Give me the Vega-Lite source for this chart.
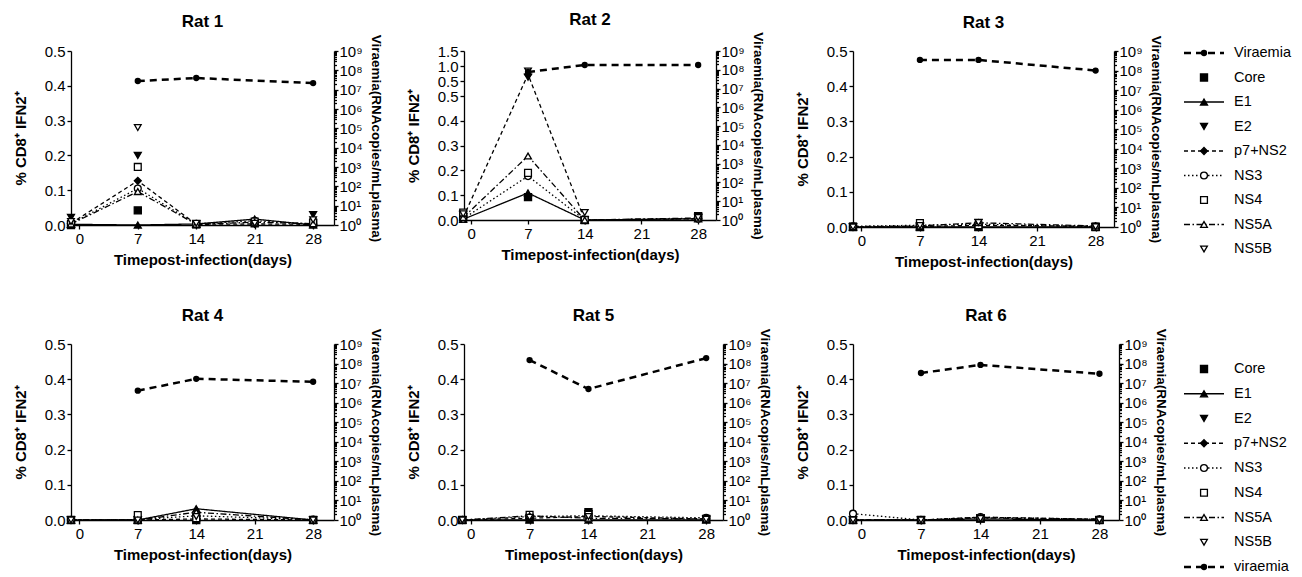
{
  "$schema": "https://vega.github.io/schema/vega-lite/v6.json",
  "padding": {"left": 13, "top": 10, "right": 5, "bottom": 5},
  "background": "white",
  "data": {"values": [
    {"rat":1,"day":-1,"series":"Core","pct":0},{"rat":1,"day":7,"series":"Core","pct":0.042},{"rat":1,"day":14,"series":"Core","pct":0.002},{"rat":1,"day":21,"series":"Core","pct":0.005},{"rat":1,"day":28,"series":"Core","pct":0.005},
    {"rat":1,"day":-1,"series":"E1","pct":0.002},{"rat":1,"day":7,"series":"E1","pct":0},{"rat":1,"day":14,"series":"E1","pct":0.003},{"rat":1,"day":21,"series":"E1","pct":0.017},{"rat":1,"day":28,"series":"E1","pct":0},
    {"rat":1,"day":-1,"series":"E2","pct":0.022},{"rat":1,"day":7,"series":"E2","pct":0.2},{"rat":1,"day":14,"series":"E2","pct":0.004},{"rat":1,"day":21,"series":"E2","pct":0.005},{"rat":1,"day":28,"series":"E2","pct":0.03},
    {"rat":1,"day":-1,"series":"p7+NS2","pct":0.005},{"rat":1,"day":7,"series":"p7+NS2","pct":0.127},{"rat":1,"day":14,"series":"p7+NS2","pct":0.002},{"rat":1,"day":21,"series":"p7+NS2","pct":0.003},{"rat":1,"day":28,"series":"p7+NS2","pct":0.002},
    {"rat":1,"day":-1,"series":"NS3","pct":0.004},{"rat":1,"day":7,"series":"NS3","pct":0.105},{"rat":1,"day":14,"series":"NS3","pct":0.003},{"rat":1,"day":21,"series":"NS3","pct":0.012},{"rat":1,"day":28,"series":"NS3","pct":0.003},
    {"rat":1,"day":-1,"series":"NS4","pct":0.003},{"rat":1,"day":7,"series":"NS4","pct":0.167},{"rat":1,"day":14,"series":"NS4","pct":0.002},{"rat":1,"day":21,"series":"NS4","pct":0.01},{"rat":1,"day":28,"series":"NS4","pct":0.008},
    {"rat":1,"day":-1,"series":"NS5A","pct":0.003},{"rat":1,"day":7,"series":"NS5A","pct":0.096},{"rat":1,"day":14,"series":"NS5A","pct":0.002},{"rat":1,"day":21,"series":"NS5A","pct":0.008},{"rat":1,"day":28,"series":"NS5A","pct":0.004},
    {"rat":1,"day":-1,"series":"NS5B","pct":0.01},{"rat":1,"day":7,"series":"NS5B","pct":0.28},{"rat":1,"day":14,"series":"NS5B","pct":0.005},{"rat":1,"day":21,"series":"NS5B","pct":0.005},{"rat":1,"day":28,"series":"NS5B","pct":0.015},
    {"rat":2,"day":-1,"series":"Core","pct":0.01},{"rat":2,"day":7,"series":"Core","pct":0.092},{"rat":2,"day":14,"series":"Core","pct":0},{"rat":2,"day":28,"series":"Core","pct":0.015},
    {"rat":2,"day":-1,"series":"E1","pct":0.003},{"rat":2,"day":7,"series":"E1","pct":0.109},{"rat":2,"day":14,"series":"E1","pct":0},{"rat":2,"day":28,"series":"E1","pct":0.005},
    {"rat":2,"day":-1,"series":"E2","pct":0.02},{"rat":2,"day":7,"series":"E2","pct":0.63},{"rat":2,"day":14,"series":"E2","pct":0},{"rat":2,"day":28,"series":"E2","pct":0.01},
    {"rat":2,"day":-1,"series":"p7+NS2","pct":0.01},{"rat":2,"day":7,"series":"p7+NS2","pct":0.72},{"rat":2,"day":14,"series":"p7+NS2","pct":0},{"rat":2,"day":28,"series":"p7+NS2","pct":0.005},
    {"rat":2,"day":-1,"series":"NS3","pct":0.005},{"rat":2,"day":7,"series":"NS3","pct":0.177},{"rat":2,"day":14,"series":"NS3","pct":0},{"rat":2,"day":28,"series":"NS3","pct":0.005},
    {"rat":2,"day":-1,"series":"NS4","pct":0.03},{"rat":2,"day":7,"series":"NS4","pct":0.19},{"rat":2,"day":14,"series":"NS4","pct":0},{"rat":2,"day":28,"series":"NS4","pct":0.012},
    {"rat":2,"day":-1,"series":"NS5A","pct":0.01},{"rat":2,"day":7,"series":"NS5A","pct":0.258},{"rat":2,"day":14,"series":"NS5A","pct":0},{"rat":2,"day":28,"series":"NS5A","pct":0.008},
    {"rat":2,"day":-1,"series":"NS5B","pct":0.025},{"rat":2,"day":7,"series":"NS5B","pct":0.83},{"rat":2,"day":14,"series":"NS5B","pct":0.03},{"rat":2,"day":28,"series":"NS5B","pct":0.01},
    {"rat":3,"day":-1,"series":"Core","pct":0},{"rat":3,"day":7,"series":"Core","pct":0},{"rat":3,"day":14,"series":"Core","pct":0},{"rat":3,"day":28,"series":"Core","pct":0},
    {"rat":3,"day":-1,"series":"E1","pct":0},{"rat":3,"day":7,"series":"E1","pct":0},{"rat":3,"day":14,"series":"E1","pct":0},{"rat":3,"day":28,"series":"E1","pct":0},
    {"rat":3,"day":-1,"series":"E2","pct":0},{"rat":3,"day":7,"series":"E2","pct":0.002},{"rat":3,"day":14,"series":"E2","pct":0.012},{"rat":3,"day":28,"series":"E2","pct":0},
    {"rat":3,"day":-1,"series":"p7+NS2","pct":0},{"rat":3,"day":7,"series":"p7+NS2","pct":0.001},{"rat":3,"day":14,"series":"p7+NS2","pct":0.005},{"rat":3,"day":28,"series":"p7+NS2","pct":0.002},
    {"rat":3,"day":-1,"series":"NS3","pct":0.002},{"rat":3,"day":7,"series":"NS3","pct":0.005},{"rat":3,"day":14,"series":"NS3","pct":0.008},{"rat":3,"day":28,"series":"NS3","pct":0.001},
    {"rat":3,"day":-1,"series":"NS4","pct":0.001},{"rat":3,"day":7,"series":"NS4","pct":0.011},{"rat":3,"day":14,"series":"NS4","pct":0.005},{"rat":3,"day":28,"series":"NS4","pct":0.001},
    {"rat":3,"day":-1,"series":"NS5A","pct":0.001},{"rat":3,"day":7,"series":"NS5A","pct":0.003},{"rat":3,"day":14,"series":"NS5A","pct":0.012},{"rat":3,"day":28,"series":"NS5A","pct":0.003},
    {"rat":3,"day":-1,"series":"NS5B","pct":0},{"rat":3,"day":7,"series":"NS5B","pct":0.004},{"rat":3,"day":14,"series":"NS5B","pct":0.013},{"rat":3,"day":28,"series":"NS5B","pct":0.001},
    {"rat":4,"day":-1,"series":"Core","pct":0},{"rat":4,"day":7,"series":"Core","pct":0},{"rat":4,"day":14,"series":"Core","pct":0},{"rat":4,"day":28,"series":"Core","pct":0},
    {"rat":4,"day":-1,"series":"E1","pct":0},{"rat":4,"day":7,"series":"E1","pct":0},{"rat":4,"day":14,"series":"E1","pct":0.032},{"rat":4,"day":28,"series":"E1","pct":0},
    {"rat":4,"day":-1,"series":"E2","pct":0},{"rat":4,"day":7,"series":"E2","pct":0},{"rat":4,"day":14,"series":"E2","pct":0.002},{"rat":4,"day":28,"series":"E2","pct":0},
    {"rat":4,"day":-1,"series":"p7+NS2","pct":0},{"rat":4,"day":7,"series":"p7+NS2","pct":0},{"rat":4,"day":14,"series":"p7+NS2","pct":0.003},{"rat":4,"day":28,"series":"p7+NS2","pct":0},
    {"rat":4,"day":-1,"series":"NS3","pct":0},{"rat":4,"day":7,"series":"NS3","pct":0.001},{"rat":4,"day":14,"series":"NS3","pct":0.012},{"rat":4,"day":28,"series":"NS3","pct":0.001},
    {"rat":4,"day":-1,"series":"NS4","pct":0},{"rat":4,"day":7,"series":"NS4","pct":0.014},{"rat":4,"day":14,"series":"NS4","pct":0.005},{"rat":4,"day":28,"series":"NS4","pct":0},
    {"rat":4,"day":-1,"series":"NS5A","pct":0},{"rat":4,"day":7,"series":"NS5A","pct":0},{"rat":4,"day":14,"series":"NS5A","pct":0.022},{"rat":4,"day":28,"series":"NS5A","pct":0},
    {"rat":4,"day":-1,"series":"NS5B","pct":0},{"rat":4,"day":7,"series":"NS5B","pct":0},{"rat":4,"day":14,"series":"NS5B","pct":0.01},{"rat":4,"day":28,"series":"NS5B","pct":0},
    {"rat":5,"day":-1,"series":"Core","pct":0},{"rat":5,"day":7,"series":"Core","pct":0.003},{"rat":5,"day":14,"series":"Core","pct":0.022},{"rat":5,"day":28,"series":"Core","pct":0.003},
    {"rat":5,"day":-1,"series":"E1","pct":0},{"rat":5,"day":7,"series":"E1","pct":0},{"rat":5,"day":14,"series":"E1","pct":0},{"rat":5,"day":28,"series":"E1","pct":0},
    {"rat":5,"day":-1,"series":"E2","pct":0},{"rat":5,"day":7,"series":"E2","pct":0.005},{"rat":5,"day":14,"series":"E2","pct":0.018},{"rat":5,"day":28,"series":"E2","pct":0.002},
    {"rat":5,"day":-1,"series":"p7+NS2","pct":0},{"rat":5,"day":7,"series":"p7+NS2","pct":0.005},{"rat":5,"day":14,"series":"p7+NS2","pct":0.01},{"rat":5,"day":28,"series":"p7+NS2","pct":0.003},
    {"rat":5,"day":-1,"series":"NS3","pct":0},{"rat":5,"day":7,"series":"NS3","pct":0.01},{"rat":5,"day":14,"series":"NS3","pct":0.012},{"rat":5,"day":28,"series":"NS3","pct":0.006},
    {"rat":5,"day":-1,"series":"NS4","pct":0},{"rat":5,"day":7,"series":"NS4","pct":0.015},{"rat":5,"day":14,"series":"NS4","pct":0.015},{"rat":5,"day":28,"series":"NS4","pct":0.003},
    {"rat":5,"day":-1,"series":"NS5A","pct":0},{"rat":5,"day":7,"series":"NS5A","pct":0.012},{"rat":5,"day":14,"series":"NS5A","pct":0.005},{"rat":5,"day":28,"series":"NS5A","pct":0.003},
    {"rat":5,"day":-1,"series":"NS5B","pct":0},{"rat":5,"day":7,"series":"NS5B","pct":0.008},{"rat":5,"day":14,"series":"NS5B","pct":0.01},{"rat":5,"day":28,"series":"NS5B","pct":0.002},
    {"rat":6,"day":-1,"series":"Core","pct":0},{"rat":6,"day":7,"series":"Core","pct":0},{"rat":6,"day":14,"series":"Core","pct":0.005},{"rat":6,"day":28,"series":"Core","pct":0},
    {"rat":6,"day":-1,"series":"E1","pct":0},{"rat":6,"day":7,"series":"E1","pct":0},{"rat":6,"day":14,"series":"E1","pct":0.003},{"rat":6,"day":28,"series":"E1","pct":0},
    {"rat":6,"day":-1,"series":"E2","pct":0},{"rat":6,"day":7,"series":"E2","pct":0},{"rat":6,"day":14,"series":"E2","pct":0.006},{"rat":6,"day":28,"series":"E2","pct":0},
    {"rat":6,"day":-1,"series":"p7+NS2","pct":0},{"rat":6,"day":7,"series":"p7+NS2","pct":0},{"rat":6,"day":14,"series":"p7+NS2","pct":0.008},{"rat":6,"day":28,"series":"p7+NS2","pct":0.002},
    {"rat":6,"day":-1,"series":"NS3","pct":0.018},{"rat":6,"day":7,"series":"NS3","pct":0},{"rat":6,"day":14,"series":"NS3","pct":0.008},{"rat":6,"day":28,"series":"NS3","pct":0.002},
    {"rat":6,"day":-1,"series":"NS4","pct":0},{"rat":6,"day":7,"series":"NS4","pct":0},{"rat":6,"day":14,"series":"NS4","pct":0.005},{"rat":6,"day":28,"series":"NS4","pct":0},
    {"rat":6,"day":-1,"series":"NS5A","pct":0},{"rat":6,"day":7,"series":"NS5A","pct":0},{"rat":6,"day":14,"series":"NS5A","pct":0.006},{"rat":6,"day":28,"series":"NS5A","pct":0.002},
    {"rat":6,"day":-1,"series":"NS5B","pct":0},{"rat":6,"day":7,"series":"NS5B","pct":0},{"rat":6,"day":14,"series":"NS5B","pct":0.004},{"rat":6,"day":28,"series":"NS5B","pct":0},
    {"rat":1,"day":7,"series":"Viraemia","vir":28000000},{"rat":1,"day":14,"series":"Viraemia","vir":40000000},{"rat":1,"day":28,"series":"Viraemia","vir":22000000},
    {"rat":2,"day":7,"series":"Viraemia","vir":76000000},{"rat":2,"day":14,"series":"Viraemia","vir":180000000},{"rat":2,"day":28,"series":"Viraemia","vir":180000000},
    {"rat":3,"day":7,"series":"Viraemia","vir":350000000},{"rat":3,"day":14,"series":"Viraemia","vir":350000000},{"rat":3,"day":28,"series":"Viraemia","vir":100000000},
    {"rat":4,"day":7,"series":"Viraemia","vir":4100000},{"rat":4,"day":14,"series":"Viraemia","vir":16600000},{"rat":4,"day":28,"series":"Viraemia","vir":11700000},
    {"rat":5,"day":7,"series":"Viraemia","vir":150000000},{"rat":5,"day":14,"series":"Viraemia","vir":5000000},{"rat":5,"day":28,"series":"Viraemia","vir":190000000},
    {"rat":6,"day":7,"series":"Viraemia","vir":33000000},{"rat":6,"day":14,"series":"Viraemia","vir":85000000},{"rat":6,"day":28,"series":"Viraemia","vir":30000000}
  ]},
  "columns": 4,
  "bounds": "flush",
  "align": "each",
  "spacing": {"row": 117, "column": 130},
  "concat": [
    {"width": 263, "height": 174, "title": "Rat 1",
     "transform": [{"filter": "datum.rat == 1"}],
     "layer": [
       {"transform": [{"filter": "datum.pct != null"}],
        "encoding": {
          "x": {"field": "day", "type": "quantitative", "scale": {"domain": [-1, 30.5], "nice": false, "zero": false}, "axis": {"values": [0, 7, 14, 21, 28], "title": "Timepost-infection(days)", "labelFlush": false}},
          "y": {"field": "pct", "type": "quantitative", "scale": {"domain": [0, 0.5], "nice": false, "zero": false}, "axis": {"values": [0, 0.1, 0.2, 0.3, 0.4, 0.5], "format": ".1f", "title": "% CD8⁺ IFN2⁺"}}},
        "layer": [
          {"transform": [{"filter": {"field": "series", "oneOf": ["E1", "p7+NS2", "NS3", "NS5A"]}}],
           "mark": {"type": "line", "color": "black", "strokeWidth": 1.3},
           "encoding": {"strokeDash": {"field": "series", "type": "nominal", "scale": {"domain": ["E1", "p7+NS2", "NS3", "NS5A"], "range": [[1, 0], [4, 3], [1.5, 2.5], [6, 2.5, 1.5, 2.5]]}, "legend": null}}},
          {"mark": {"type": "point", "filled": true, "stroke": "black", "strokeWidth": 1.3, "opacity": 1},
           "encoding": {
             "shape": {"field": "series", "type": "nominal", "scale": {"domain": ["Core", "E1", "E2", "p7+NS2", "NS3", "NS4", "NS5A", "NS5B"], "range": ["square", "triangle-up", "triangle-down", "diamond", "circle", "square", "triangle-up", "triangle-down"]}, "legend": null},
             "fill": {"field": "series", "type": "nominal", "scale": {"domain": ["Core", "E1", "E2", "p7+NS2", "NS3", "NS4", "NS5A", "NS5B"], "range": ["black", "black", "black", "black", "white", "white", "white", "white"]}, "legend": null},
             "size": {"field": "series", "type": "ordinal", "scale": {"domain": ["Core", "E1", "E2", "p7+NS2", "NS3", "NS4", "NS5A", "NS5B"], "range": [50, 45, 45, 30, 45, 55, 55, 55]}, "legend": null}}}
        ]},
       {"transform": [{"filter": "datum.vir != null"}],
        "encoding": {
          "x": {"field": "day", "type": "quantitative"},
          "y": {"field": "vir", "type": "quantitative", "scale": {"type": "log", "domain": [1, 1000000000], "nice": false},
                "axis": {"orient": "right", "title": "Viraemia(RNAcopies/mLplasma)", "titleFontSize": 13.5, "tickCount": 50, "labelOverlap": false, "labelFlush": false, "labelBound": false, "titlePadding": 6, "labelPadding": 1,
                         "labelExpr": "abs(log(datum.value)/LN10 - round(log(datum.value)/LN10)) < 0.001 ? '10' + ['⁰','¹','²','³','⁴','⁵','⁶','⁷','⁸','⁹'][round(log(datum.value)/LN10)] : ''",
                         "tickSize": {"condition": {"test": "abs(log(datum.value)/LN10 - round(log(datum.value)/LN10)) < 0.001", "value": 4}, "value": 2.5}}}},
        "layer": [
          {"mark": {"type": "line", "color": "black", "strokeWidth": 2.5, "strokeDash": [7, 5]}, "encoding": {}},
          {"mark": {"type": "point", "filled": true, "color": "black", "size": 40, "opacity": 1}, "encoding": {}}
        ]}
     ],
     "resolve": {"scale": {"y": "independent"}}},
    {"width": 252, "height": 169, "title": "Rat 2",
     "transform": [{"filter": "datum.rat == 2"}],
     "layer": [
       {"transform": [{"filter": "datum.pct != null"}],
        "encoding": {
          "x": {"field": "day", "type": "quantitative", "scale": {"domain": [-0.9, 30.2], "nice": false, "zero": false}, "axis": {"values": [0, 7, 14, 21, 28], "title": "Timepost-infection(days)", "labelFlush": false}},
          "y": {"field": "pct", "type": "quantitative", "scale": {"domain": [0, 0.5, 0.50001, 1.5], "range": [169, 45, 30, 0], "nice": false, "zero": false}, "axis": {"values": [0, 0.1, 0.2, 0.3, 0.4, 0.5, 0.50001, 1.0, 1.5], "format": ".1f", "labelOverlap": false, "title": "% CD8⁺ IFN2⁺"}}},
        "layer": [
          {"transform": [{"filter": {"field": "series", "oneOf": ["E1", "p7+NS2", "NS3", "NS5A"]}}],
           "mark": {"type": "line", "color": "black", "strokeWidth": 1.3},
           "encoding": {"strokeDash": {"field": "series", "type": "nominal", "scale": {"domain": ["E1", "p7+NS2", "NS3", "NS5A"], "range": [[1, 0], [4, 3], [1.5, 2.5], [6, 2.5, 1.5, 2.5]]}, "legend": null}}},
          {"mark": {"type": "point", "filled": true, "stroke": "black", "strokeWidth": 1.3, "opacity": 1},
           "encoding": {
             "shape": {"field": "series", "type": "nominal", "scale": {"domain": ["Core", "E1", "E2", "p7+NS2", "NS3", "NS4", "NS5A", "NS5B"], "range": ["square", "triangle-up", "triangle-down", "diamond", "circle", "square", "triangle-up", "triangle-down"]}, "legend": null},
             "fill": {"field": "series", "type": "nominal", "scale": {"domain": ["Core", "E1", "E2", "p7+NS2", "NS3", "NS4", "NS5A", "NS5B"], "range": ["black", "black", "black", "black", "white", "white", "white", "white"]}, "legend": null},
             "size": {"field": "series", "type": "ordinal", "scale": {"domain": ["Core", "E1", "E2", "p7+NS2", "NS3", "NS4", "NS5A", "NS5B"], "range": [50, 45, 45, 30, 45, 55, 55, 55]}, "legend": null}}}
        ]},
       {"transform": [{"filter": "datum.vir != null"}],
        "encoding": {
          "x": {"field": "day", "type": "quantitative"},
          "y": {"field": "vir", "type": "quantitative", "scale": {"type": "log", "domain": [1, 1000000000], "nice": false},
                "axis": {"orient": "right", "title": "Viraemia(RNAcopies/mLplasma)", "titleFontSize": 13.5, "tickCount": 50, "labelOverlap": false, "labelFlush": false, "labelBound": false, "titlePadding": 6, "labelPadding": 1,
                         "labelExpr": "abs(log(datum.value)/LN10 - round(log(datum.value)/LN10)) < 0.001 ? '10' + ['⁰','¹','²','³','⁴','⁵','⁶','⁷','⁸','⁹'][round(log(datum.value)/LN10)] : ''",
                         "tickSize": {"condition": {"test": "abs(log(datum.value)/LN10 - round(log(datum.value)/LN10)) < 0.001", "value": 4}, "value": 2.5}}}},
        "layer": [
          {"mark": {"type": "line", "color": "black", "strokeWidth": 2.5, "strokeDash": [7, 5]}, "encoding": {}},
          {"mark": {"type": "point", "filled": true, "color": "black", "size": 40, "opacity": 1}, "encoding": {}}
        ]}
     ],
     "resolve": {"scale": {"y": "independent"}}},
    {"width": 261, "height": 176, "title": "Rat 3",
     "transform": [{"filter": "datum.rat == 3"}],
     "layer": [
       {"transform": [{"filter": "datum.pct != null"}],
        "encoding": {
          "x": {"field": "day", "type": "quantitative", "scale": {"domain": [-1, 30.2], "nice": false, "zero": false}, "axis": {"values": [0, 7, 14, 21, 28], "title": "Timepost-infection(days)", "labelFlush": false}},
          "y": {"field": "pct", "type": "quantitative", "scale": {"domain": [0, 0.5], "nice": false, "zero": false}, "axis": {"values": [0, 0.1, 0.2, 0.3, 0.4, 0.5], "format": ".1f", "title": "% CD8⁺ IFN2⁺"}}},
        "layer": [
          {"transform": [{"filter": {"field": "series", "oneOf": ["E1", "p7+NS2", "NS3", "NS5A"]}}],
           "mark": {"type": "line", "color": "black", "strokeWidth": 1.3},
           "encoding": {"strokeDash": {"field": "series", "type": "nominal", "scale": {"domain": ["E1", "p7+NS2", "NS3", "NS5A"], "range": [[1, 0], [4, 3], [1.5, 2.5], [6, 2.5, 1.5, 2.5]]}, "legend": null}}},
          {"mark": {"type": "point", "filled": true, "stroke": "black", "strokeWidth": 1.3, "opacity": 1},
           "encoding": {
             "shape": {"field": "series", "type": "nominal", "scale": {"domain": ["Core", "E1", "E2", "p7+NS2", "NS3", "NS4", "NS5A", "NS5B"], "range": ["square", "triangle-up", "triangle-down", "diamond", "circle", "square", "triangle-up", "triangle-down"]}, "legend": null},
             "fill": {"field": "series", "type": "nominal", "scale": {"domain": ["Core", "E1", "E2", "p7+NS2", "NS3", "NS4", "NS5A", "NS5B"], "range": ["black", "black", "black", "black", "white", "white", "white", "white"]}, "legend": null},
             "size": {"field": "series", "type": "ordinal", "scale": {"domain": ["Core", "E1", "E2", "p7+NS2", "NS3", "NS4", "NS5A", "NS5B"], "range": [50, 45, 45, 30, 45, 55, 55, 55]}, "legend": null}}}
        ]},
       {"transform": [{"filter": "datum.vir != null"}],
        "encoding": {
          "x": {"field": "day", "type": "quantitative"},
          "y": {"field": "vir", "type": "quantitative", "scale": {"type": "log", "domain": [1, 1000000000], "nice": false},
                "axis": {"orient": "right", "title": "Viraemia(RNAcopies/mLplasma)", "titleFontSize": 13.5, "tickCount": 50, "labelOverlap": false, "labelFlush": false, "labelBound": false, "titlePadding": 6, "labelPadding": 1,
                         "labelExpr": "abs(log(datum.value)/LN10 - round(log(datum.value)/LN10)) < 0.001 ? '10' + ['⁰','¹','²','³','⁴','⁵','⁶','⁷','⁸','⁹'][round(log(datum.value)/LN10)] : ''",
                         "tickSize": {"condition": {"test": "abs(log(datum.value)/LN10 - round(log(datum.value)/LN10)) < 0.001", "value": 4}, "value": 2.5}}}},
        "layer": [
          {"mark": {"type": "line", "color": "black", "strokeWidth": 2.5, "strokeDash": [7, 5]}, "encoding": {}},
          {"mark": {"type": "point", "filled": true, "color": "black", "size": 40, "opacity": 1}, "encoding": {}}
        ]}
     ],
     "resolve": {"scale": {"y": "independent"}}},
    {"width": 100, "height": 174,
     "data": {"values": [
       {"label": "Viraemia", "series": "Viraemia", "order": 0},
       {"label": "Core", "series": "Core", "order": 1},
       {"label": "E1", "series": "E1", "order": 2},
       {"label": "E2", "series": "E2", "order": 3},
       {"label": "p7+NS2", "series": "p7+NS2", "order": 4},
       {"label": "NS3", "series": "NS3", "order": 5},
       {"label": "NS4", "series": "NS4", "order": 6},
       {"label": "NS5A", "series": "NS5A", "order": 7},
       {"label": "NS5B", "series": "NS5B", "order": 8}
     ]},
     "encoding": {"y": {"field": "order", "type": "quantitative", "scale": {"domain": [0, 8], "range": [2, 198]}, "axis": null}},
     "layer": [
       {"transform": [{"filter": {"field": "series", "oneOf": ["E1", "p7+NS2", "NS3", "NS5A"]}}],
        "mark": {"type": "rule", "color": "black", "strokeWidth": 1.3},
        "encoding": {"x": {"datum": 0, "type": "quantitative", "scale": {"domain": [65, 165], "nice": false, "zero": false}, "axis": null}, "x2": {"datum": 40},
                     "strokeDash": {"field": "series", "type": "nominal", "scale": {"domain": ["E1", "p7+NS2", "NS3", "NS5A"], "range": [[1, 0], [4, 3], [1.5, 2.5], [6, 2.5, 1.5, 2.5]]}, "legend": null}}},
       {"transform": [{"filter": "datum.series == 'Viraemia'"}],
        "mark": {"type": "rule", "color": "black", "strokeWidth": 2.5, "strokeDash": [7, 5]},
        "encoding": {"x": {"datum": 0}, "x2": {"datum": 40}}},
       {"transform": [{"filter": "datum.series != 'Viraemia'"}],
        "mark": {"type": "point", "filled": true, "stroke": "black", "strokeWidth": 1.3, "opacity": 1},
        "encoding": {"x": {"datum": 20},
          "shape": {"field": "series", "type": "nominal", "scale": {"domain": ["Core", "E1", "E2", "p7+NS2", "NS3", "NS4", "NS5A", "NS5B"], "range": ["square", "triangle-up", "triangle-down", "diamond", "circle", "square", "triangle-up", "triangle-down"]}, "legend": null},
          "fill": {"field": "series", "type": "nominal", "scale": {"domain": ["Core", "E1", "E2", "p7+NS2", "NS3", "NS4", "NS5A", "NS5B"], "range": ["black", "black", "black", "black", "white", "white", "white", "white"]}, "legend": null},
          "size": {"field": "series", "type": "ordinal", "scale": {"domain": ["Core", "E1", "E2", "p7+NS2", "NS3", "NS4", "NS5A", "NS5B"], "range": [50, 45, 45, 30, 45, 55, 55, 55]}, "legend": null}}},
       {"transform": [{"filter": "datum.series == 'Viraemia'"}],
        "mark": {"type": "point", "filled": true, "color": "black", "size": 40, "opacity": 1},
        "encoding": {"x": {"datum": 20}}},
       {"mark": {"type": "text", "align": "left", "baseline": "middle", "fontSize": 14.5, "color": "black"},
        "encoding": {"x": {"datum": 50}, "text": {"field": "label"}}}
     ]},
    {"width": 263, "height": 176, "title": "Rat 4",
     "transform": [{"filter": "datum.rat == 4"}],
     "layer": [
       {"transform": [{"filter": "datum.pct != null"}],
        "encoding": {
          "x": {"field": "day", "type": "quantitative", "scale": {"domain": [-1, 30.5], "nice": false, "zero": false}, "axis": {"values": [0, 7, 14, 21, 28], "title": "Timepost-infection(days)", "labelFlush": false}},
          "y": {"field": "pct", "type": "quantitative", "scale": {"domain": [0, 0.5], "nice": false, "zero": false}, "axis": {"values": [0, 0.1, 0.2, 0.3, 0.4, 0.5], "format": ".1f", "title": "% CD8⁺ IFN2⁺"}}},
        "layer": [
          {"transform": [{"filter": {"field": "series", "oneOf": ["E1", "p7+NS2", "NS3", "NS5A"]}}],
           "mark": {"type": "line", "color": "black", "strokeWidth": 1.3},
           "encoding": {"strokeDash": {"field": "series", "type": "nominal", "scale": {"domain": ["E1", "p7+NS2", "NS3", "NS5A"], "range": [[1, 0], [4, 3], [1.5, 2.5], [6, 2.5, 1.5, 2.5]]}, "legend": null}}},
          {"mark": {"type": "point", "filled": true, "stroke": "black", "strokeWidth": 1.3, "opacity": 1},
           "encoding": {
             "shape": {"field": "series", "type": "nominal", "scale": {"domain": ["Core", "E1", "E2", "p7+NS2", "NS3", "NS4", "NS5A", "NS5B"], "range": ["square", "triangle-up", "triangle-down", "diamond", "circle", "square", "triangle-up", "triangle-down"]}, "legend": null},
             "fill": {"field": "series", "type": "nominal", "scale": {"domain": ["Core", "E1", "E2", "p7+NS2", "NS3", "NS4", "NS5A", "NS5B"], "range": ["black", "black", "black", "black", "white", "white", "white", "white"]}, "legend": null},
             "size": {"field": "series", "type": "ordinal", "scale": {"domain": ["Core", "E1", "E2", "p7+NS2", "NS3", "NS4", "NS5A", "NS5B"], "range": [50, 45, 45, 30, 45, 55, 55, 55]}, "legend": null}}}
        ]},
       {"transform": [{"filter": "datum.vir != null"}],
        "encoding": {
          "x": {"field": "day", "type": "quantitative"},
          "y": {"field": "vir", "type": "quantitative", "scale": {"type": "log", "domain": [1, 1000000000], "nice": false},
                "axis": {"orient": "right", "title": "Viraemia(RNAcopies/mLplasma)", "titleFontSize": 13.5, "tickCount": 50, "labelOverlap": false, "labelFlush": false, "labelBound": false, "titlePadding": 6, "labelPadding": 1,
                         "labelExpr": "abs(log(datum.value)/LN10 - round(log(datum.value)/LN10)) < 0.001 ? '10' + ['⁰','¹','²','³','⁴','⁵','⁶','⁷','⁸','⁹'][round(log(datum.value)/LN10)] : ''",
                         "tickSize": {"condition": {"test": "abs(log(datum.value)/LN10 - round(log(datum.value)/LN10)) < 0.001", "value": 4}, "value": 2.5}}}},
        "layer": [
          {"mark": {"type": "line", "color": "black", "strokeWidth": 2.5, "strokeDash": [7, 5]}, "encoding": {}},
          {"mark": {"type": "point", "filled": true, "color": "black", "size": 40, "opacity": 1}, "encoding": {}}
        ]}
     ],
     "resolve": {"scale": {"y": "independent"}}},
    {"width": 259, "height": 176, "title": "Rat 5",
     "transform": [{"filter": "datum.rat == 5"}],
     "layer": [
       {"transform": [{"filter": "datum.pct != null"}],
        "encoding": {
          "x": {"field": "day", "type": "quantitative", "scale": {"domain": [-0.8, 30], "nice": false, "zero": false}, "axis": {"values": [0, 7, 14, 21, 28], "title": "Timepost-infection(days)", "labelFlush": false}},
          "y": {"field": "pct", "type": "quantitative", "scale": {"domain": [0, 0.5], "nice": false, "zero": false}, "axis": {"values": [0, 0.1, 0.2, 0.3, 0.4, 0.5], "format": ".1f", "title": "% CD8⁺ IFN2⁺"}}},
        "layer": [
          {"transform": [{"filter": {"field": "series", "oneOf": ["E1", "p7+NS2", "NS3", "NS5A"]}}],
           "mark": {"type": "line", "color": "black", "strokeWidth": 1.3},
           "encoding": {"strokeDash": {"field": "series", "type": "nominal", "scale": {"domain": ["E1", "p7+NS2", "NS3", "NS5A"], "range": [[1, 0], [4, 3], [1.5, 2.5], [6, 2.5, 1.5, 2.5]]}, "legend": null}}},
          {"mark": {"type": "point", "filled": true, "stroke": "black", "strokeWidth": 1.3, "opacity": 1},
           "encoding": {
             "shape": {"field": "series", "type": "nominal", "scale": {"domain": ["Core", "E1", "E2", "p7+NS2", "NS3", "NS4", "NS5A", "NS5B"], "range": ["square", "triangle-up", "triangle-down", "diamond", "circle", "square", "triangle-up", "triangle-down"]}, "legend": null},
             "fill": {"field": "series", "type": "nominal", "scale": {"domain": ["Core", "E1", "E2", "p7+NS2", "NS3", "NS4", "NS5A", "NS5B"], "range": ["black", "black", "black", "black", "white", "white", "white", "white"]}, "legend": null},
             "size": {"field": "series", "type": "ordinal", "scale": {"domain": ["Core", "E1", "E2", "p7+NS2", "NS3", "NS4", "NS5A", "NS5B"], "range": [50, 45, 45, 30, 45, 55, 55, 55]}, "legend": null}}}
        ]},
       {"transform": [{"filter": "datum.vir != null"}],
        "encoding": {
          "x": {"field": "day", "type": "quantitative"},
          "y": {"field": "vir", "type": "quantitative", "scale": {"type": "log", "domain": [1, 1000000000], "nice": false},
                "axis": {"orient": "right", "title": "Viraemia(RNAcopies/mLplasma)", "titleFontSize": 13.5, "tickCount": 50, "labelOverlap": false, "labelFlush": false, "labelBound": false, "titlePadding": 6, "labelPadding": 1,
                         "labelExpr": "abs(log(datum.value)/LN10 - round(log(datum.value)/LN10)) < 0.001 ? '10' + ['⁰','¹','²','³','⁴','⁵','⁶','⁷','⁸','⁹'][round(log(datum.value)/LN10)] : ''",
                         "tickSize": {"condition": {"test": "abs(log(datum.value)/LN10 - round(log(datum.value)/LN10)) < 0.001", "value": 4}, "value": 2.5}}}},
        "layer": [
          {"mark": {"type": "line", "color": "black", "strokeWidth": 2.5, "strokeDash": [7, 5]}, "encoding": {}},
          {"mark": {"type": "point", "filled": true, "color": "black", "size": 40, "opacity": 1}, "encoding": {}}
        ]}
     ],
     "resolve": {"scale": {"y": "independent"}}},
    {"width": 266, "height": 176, "title": "Rat 6",
     "transform": [{"filter": "datum.rat == 6"}],
     "layer": [
       {"transform": [{"filter": "datum.pct != null"}],
        "encoding": {
          "x": {"field": "day", "type": "quantitative", "scale": {"domain": [-1, 30.3], "nice": false, "zero": false}, "axis": {"values": [0, 7, 14, 21, 28], "title": "Timepost-infection(days)", "labelFlush": false}},
          "y": {"field": "pct", "type": "quantitative", "scale": {"domain": [0, 0.5], "nice": false, "zero": false}, "axis": {"values": [0, 0.1, 0.2, 0.3, 0.4, 0.5], "format": ".1f", "title": "% CD8⁺ IFN2⁺"}}},
        "layer": [
          {"transform": [{"filter": {"field": "series", "oneOf": ["E1", "p7+NS2", "NS3", "NS5A"]}}],
           "mark": {"type": "line", "color": "black", "strokeWidth": 1.3},
           "encoding": {"strokeDash": {"field": "series", "type": "nominal", "scale": {"domain": ["E1", "p7+NS2", "NS3", "NS5A"], "range": [[1, 0], [4, 3], [1.5, 2.5], [6, 2.5, 1.5, 2.5]]}, "legend": null}}},
          {"mark": {"type": "point", "filled": true, "stroke": "black", "strokeWidth": 1.3, "opacity": 1},
           "encoding": {
             "shape": {"field": "series", "type": "nominal", "scale": {"domain": ["Core", "E1", "E2", "p7+NS2", "NS3", "NS4", "NS5A", "NS5B"], "range": ["square", "triangle-up", "triangle-down", "diamond", "circle", "square", "triangle-up", "triangle-down"]}, "legend": null},
             "fill": {"field": "series", "type": "nominal", "scale": {"domain": ["Core", "E1", "E2", "p7+NS2", "NS3", "NS4", "NS5A", "NS5B"], "range": ["black", "black", "black", "black", "white", "white", "white", "white"]}, "legend": null},
             "size": {"field": "series", "type": "ordinal", "scale": {"domain": ["Core", "E1", "E2", "p7+NS2", "NS3", "NS4", "NS5A", "NS5B"], "range": [50, 45, 45, 30, 45, 55, 55, 55]}, "legend": null}}}
        ]},
       {"transform": [{"filter": "datum.vir != null"}],
        "encoding": {
          "x": {"field": "day", "type": "quantitative"},
          "y": {"field": "vir", "type": "quantitative", "scale": {"type": "log", "domain": [1, 1000000000], "nice": false},
                "axis": {"orient": "right", "title": "Viraemia(RNAcopies/mLplasma)", "titleFontSize": 13.5, "tickCount": 50, "labelOverlap": false, "labelFlush": false, "labelBound": false, "titlePadding": 6, "labelPadding": 1,
                         "labelExpr": "abs(log(datum.value)/LN10 - round(log(datum.value)/LN10)) < 0.001 ? '10' + ['⁰','¹','²','³','⁴','⁵','⁶','⁷','⁸','⁹'][round(log(datum.value)/LN10)] : ''",
                         "tickSize": {"condition": {"test": "abs(log(datum.value)/LN10 - round(log(datum.value)/LN10)) < 0.001", "value": 4}, "value": 2.5}}}},
        "layer": [
          {"mark": {"type": "line", "color": "black", "strokeWidth": 2.5, "strokeDash": [7, 5]}, "encoding": {}},
          {"mark": {"type": "point", "filled": true, "color": "black", "size": 40, "opacity": 1}, "encoding": {}}
        ]}
     ],
     "resolve": {"scale": {"y": "independent"}}},
    {"width": 100, "height": 176,
     "data": {"values": [
       {"label": "Core", "series": "Core", "order": 0},
       {"label": "E1", "series": "E1", "order": 1},
       {"label": "E2", "series": "E2", "order": 2},
       {"label": "p7+NS2", "series": "p7+NS2", "order": 3},
       {"label": "NS3", "series": "NS3", "order": 4},
       {"label": "NS4", "series": "NS4", "order": 5},
       {"label": "NS5A", "series": "NS5A", "order": 6},
       {"label": "NS5B", "series": "NS5B", "order": 7},
       {"label": "viraemia", "series": "Viraemia", "order": 8}
     ]},
     "encoding": {"y": {"field": "order", "type": "quantitative", "scale": {"domain": [0, 8], "range": [25, 223]}, "axis": null}},
     "layer": [
       {"transform": [{"filter": {"field": "series", "oneOf": ["E1", "p7+NS2", "NS3", "NS5A"]}}],
        "mark": {"type": "rule", "color": "black", "strokeWidth": 1.3},
        "encoding": {"x": {"datum": 0, "type": "quantitative", "scale": {"domain": [65, 165], "nice": false, "zero": false}, "axis": null}, "x2": {"datum": 40},
                     "strokeDash": {"field": "series", "type": "nominal", "scale": {"domain": ["E1", "p7+NS2", "NS3", "NS5A"], "range": [[1, 0], [4, 3], [1.5, 2.5], [6, 2.5, 1.5, 2.5]]}, "legend": null}}},
       {"transform": [{"filter": "datum.series == 'Viraemia'"}],
        "mark": {"type": "rule", "color": "black", "strokeWidth": 2.5, "strokeDash": [7, 5]},
        "encoding": {"x": {"datum": 0}, "x2": {"datum": 40}}},
       {"transform": [{"filter": "datum.series != 'Viraemia'"}],
        "mark": {"type": "point", "filled": true, "stroke": "black", "strokeWidth": 1.3, "opacity": 1},
        "encoding": {"x": {"datum": 20},
          "shape": {"field": "series", "type": "nominal", "scale": {"domain": ["Core", "E1", "E2", "p7+NS2", "NS3", "NS4", "NS5A", "NS5B"], "range": ["square", "triangle-up", "triangle-down", "diamond", "circle", "square", "triangle-up", "triangle-down"]}, "legend": null},
          "fill": {"field": "series", "type": "nominal", "scale": {"domain": ["Core", "E1", "E2", "p7+NS2", "NS3", "NS4", "NS5A", "NS5B"], "range": ["black", "black", "black", "black", "white", "white", "white", "white"]}, "legend": null},
          "size": {"field": "series", "type": "ordinal", "scale": {"domain": ["Core", "E1", "E2", "p7+NS2", "NS3", "NS4", "NS5A", "NS5B"], "range": [50, 45, 45, 30, 45, 55, 55, 55]}, "legend": null}}},
       {"transform": [{"filter": "datum.series == 'Viraemia'"}],
        "mark": {"type": "point", "filled": true, "color": "black", "size": 40, "opacity": 1},
        "encoding": {"x": {"datum": 20}}},
       {"mark": {"type": "text", "align": "left", "baseline": "middle", "fontSize": 14.5, "color": "black"},
        "encoding": {"x": {"datum": 50}, "text": {"field": "label"}}}
     ]}
  ],
  "config": {
    "font": "Liberation Sans",
    "view": {"stroke": null},
    "axis": {"domainColor": "black", "tickColor": "black", "labelColor": "black", "titleColor": "black", "labelFontSize": 15, "titleFontSize": 15, "titleFontWeight": "bold", "domainWidth": 1.3, "tickWidth": 1.3, "tickSize": 4, "grid": false, "labelPadding": 2},
    "axisY": {"titlePadding": 16},
    "axisX": {"titlePadding": 6},
    "title": {"fontSize": 17, "fontWeight": "bold", "color": "black", "offset": 3}
  }
}
